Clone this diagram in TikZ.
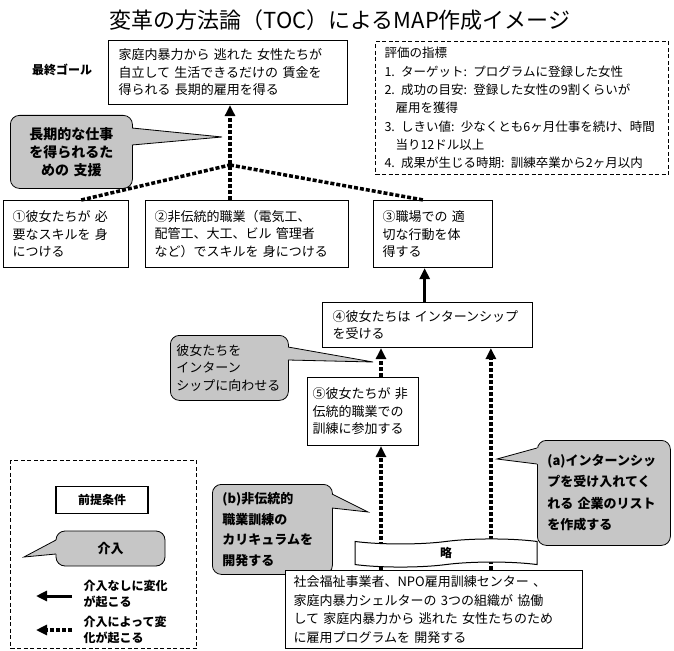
\documentclass[tikz,border=0pt]{standalone}
\usepackage{fontspec}
\newfontfamily\jp{Noto Sans CJK JP}
\usetikzlibrary{arrows.meta,calc,shapes.symbols}
\definecolor{cgray}{RGB}{198,198,198}
\begin{document}
\begin{tikzpicture}[x=1pt,y=-1pt,
  box/.style={draw, line width=1.1pt, fill=white, inner sep=0pt, anchor=north west, align=left, font=\jp\fontsize{13}{17.5}\selectfont},
  cbody/.style={draw, line width=0.8pt, fill=cgray, rounded corners=9pt, inner sep=0pt, anchor=north west},
  ptr/.style={line width=0.8pt},
  dbox/.style={draw, line width=1.1pt, dash pattern=on 4pt off 2.5pt, inner sep=0pt, anchor=north west},
  dasharrow/.style={line width=3.5pt, dash pattern=on 4pt off 2pt, -{Triangle[length=11pt,width=10pt]}},
  dashline/.style={line width=3.5pt, dash pattern=on 4pt off 2pt},
  solidarrow/.style={line width=3pt, -{Triangle[length=11pt,width=10pt]}},
  legtext/.style={anchor=west, align=left, font=\jp\bfseries\fontsize{12}{16}\selectfont},
]
\useasboundingbox (0,0) rectangle (674,650);

% title and goal
\node[font=\jp\fontsize{22}{26}\selectfont] (title) at (340,20) {変革の方法論（TOC）によるMAP作成イメージ};
\node[font=\jp\bfseries\fontsize{12}{14}\selectfont] (goallab) at (62,70) {最終ゴール};
\node[box, minimum width=239, minimum height=64, text width=219] (goal) at (108,40) {家庭内暴力から 逃れた 女性たちが\\自立して 生活できるだけの 賃金を\\得られる 長期的雇用を得る};

% evaluation box
\node[dbox, minimum width=293, minimum height=133, text width=275, align=left, font=\jp\fontsize{12.5}{18.3}\selectfont] (eval) at (375,41) {評価の指標\\1. ターゲット: プログラムに登録した女性\\2. 成功の目安: 登録した女性の9割くらいが\\\hspace*{11pt}雇用を獲得\\3. しきい値: 少なくとも6ヶ月仕事を続け、時間\\\hspace*{11pt}当り12ドル以上\\4. 成果が生じる時期: 訓練卒業から2ヶ月以内};

% callout 1
\node[cbody, minimum width=122, minimum height=73, text width=110, align=center, font=\jp\bfseries\fontsize{14}{18}\selectfont] (c1) at (10,115) {長期的な仕事\\を得られるた\\めの 支援};
\coordinate (t1) at (222,137);
\fill[cgray] (130,128) -- (132,128) -- (t1) -- (132,145) -- (130,145) -- cycle;
\draw[ptr] (132,128) -- (t1) -- (132,145);

% row of outcome boxes
\node[box, minimum width=125, minimum height=67, text width=107] (b1) at (3,200) {①彼女たちが 必\\要なスキルを 身\\につける};
\node[box, minimum width=203, minimum height=67, text width=185] (b2) at (145,200) {②非伝統的職業（電気工、\\配管工、大工、ビル 管理者\\など）でスキルを 身につける};
\node[box, minimum width=119, minimum height=67, text width=101] (b3) at (373,200) {③職場での 適\\切な行動を体\\得する};

\node[box, minimum width=210, minimum height=45, text width=190] (b4) at (322,302) {④彼女たちは インターンシップ\\を受ける};
\node[box, minimum width=111, minimum height=68, text width=101] (b5) at (307,377) {⑤彼女たちが 非\\伝統的職業での\\訓練に参加する};

% callout 2
\node[cbody, minimum width=118, minimum height=65, text width=106, align=left, font=\jp\fontsize{13}{17.5}\selectfont] (c2) at (170,335) {彼女たちを\\インターン\\シップに向わせる};
\coordinate (t2) at (373,362);
\fill[cgray] (286,347) -- (288,347) -- (t2) -- (288,360) -- (286,360) -- cycle;
\draw[ptr] (288,347) -- (t2) -- (288,360);

% callout b
\node[cbody, minimum width=120, minimum height=90, text width=100, align=left, font=\jp\bfseries\fontsize{13}{20.5}\selectfont] (cb) at (212,484) {(b)非伝統的\\職業訓練の\\カリキュラムを\\開発する};
\coordinate (tb) at (368,512);
\fill[cgray] (330,494) -- (332,494) -- (tb) -- (332,508) -- (330,508) -- cycle;
\draw[ptr] (332,494) -- (tb) -- (332,508);

% callout a
\node[cbody, minimum width=133, minimum height=105, text width=113, align=left, font=\jp\bfseries\fontsize{13}{21.5}\selectfont] (ca) at (537,440) {(a)インターンシッ\\プを受け入れてく\\れる 企業のリスト\\を作成する};
\coordinate (ta) at (497,459);
\fill[cgray] (539,448) -- (537,448) -- (ta) -- (537,464) -- (539,464) -- cycle;
\draw[ptr] (537,448) -- (ta) -- (537,464);

% bottom box
\node[box, minimum width=297, minimum height=78, text width=281, font=\jp\fontsize{13}{18.7}\selectfont] (bot) at (285,570) {社会福祉事業者、NPO雇用訓練センター 、\\家庭内暴力シェルターの 3つの組織が 協働\\して 家庭内暴力から 逃れた 女性たちのため\\に雇用プログラムを 開発する};

% legend
\node[dbox, minimum width=186, minimum height=188] (leg) at (10,460) {};
\node[draw, line width=1.1pt, minimum width=92, minimum height=27, font=\jp\bfseries\fontsize{12}{14}\selectfont] (pre) at (102,500) {前提条件};
\node[draw, line width=0.8pt, fill=cgray, rounded corners=9pt, minimum width=109, minimum height=35, font=\jp\bfseries\fontsize{13}{15}\selectfont] (kai) at (110.5,548.5) {介入};
\coordinate (tk) at (24,557);
\fill[cgray] (58,540) -- (56,540) -- (tk) -- (56,554) -- (58,554) -- cycle;
\draw[ptr] (56,540) -- (tk) -- (56,554);
\coordinate (l1a) at (72,596);
\coordinate (l1b) at (36,596);
\draw[solidarrow] (l1a) -- (l1b);
\node[legtext] (l1t) at (80,594) {介入なしに変化\\が起こる};
\coordinate (l2a) at (72,630);
\coordinate (l2b) at (36,630);
\draw[dasharrow] (l2a) -- (l2b);
\node[legtext] (l2t) at (80,630) {介入によって変\\化が起こる};

% connectors
\coordinate (J) at (230,165);
\draw[dasharrow] (J |- b2.north) -- (J |- goal.south);
\draw[dashline] ($(b1.north west)!0.62!(b1.north east)$) -- (J);
\draw[dashline] (J) -- ($(b3.north west)!0.42!(b3.north east)$);
\coordinate (x3) at ($(b3.south west)!0.43!(b3.south east)$);
\draw[solidarrow] (x3 |- b4.north) -- (x3);
\coordinate (x5) at ($(b5.south west)!0.66!(b5.south east)$);
\draw[dasharrow] (x5 |- b5.north) -- (x5 |- b4.south);
\draw[dasharrow] (x5 |- bot.north) -- (x5);
\coordinate (x4) at ($(b4.south west)!0.8!(b4.south east)$);
\draw[dasharrow] (x4 |- bot.north) -- (x4);

% omission banner
\node[tape, draw, line width=1pt, fill=white, minimum width=182, minimum height=26, font=\jp\bfseries\fontsize{12}{14}\selectfont] (ryaku) at (446,553) {略};
\end{tikzpicture}
\end{document}
